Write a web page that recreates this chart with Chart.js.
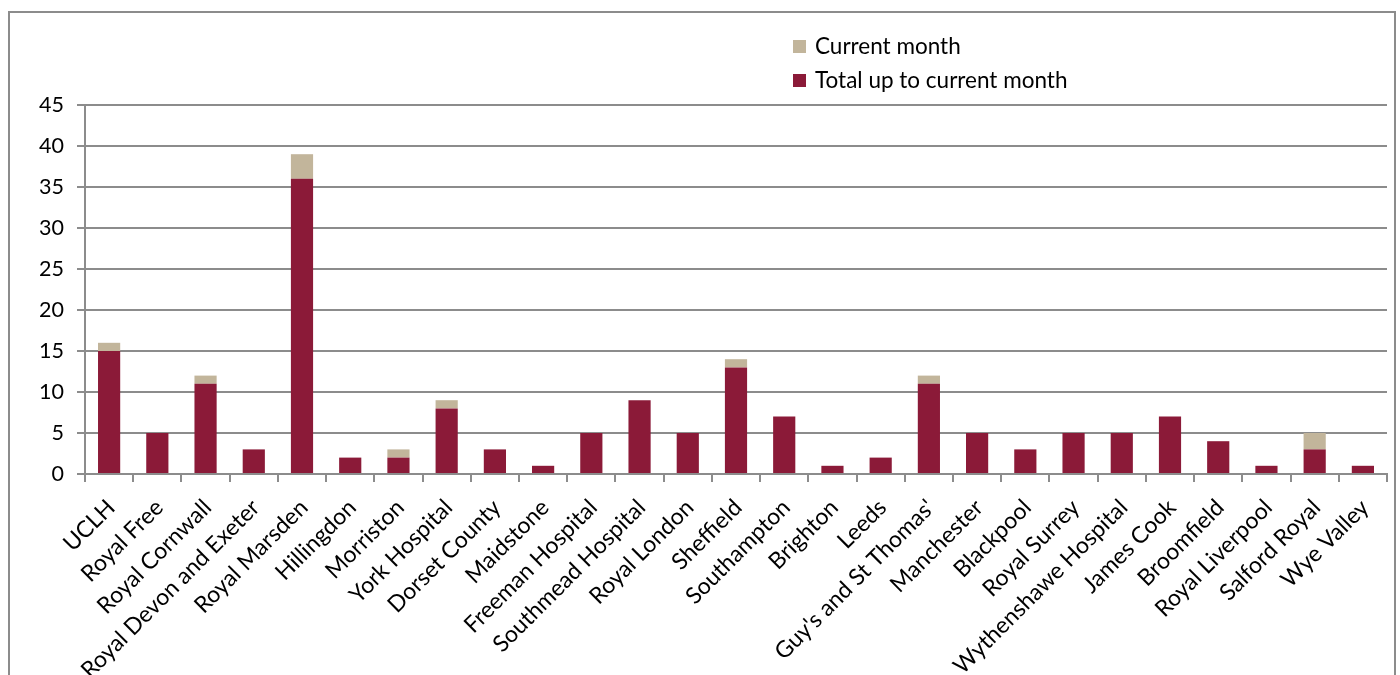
<!DOCTYPE html>
<html>
<head>
<meta charset="utf-8">
<script src="https://cdn.jsdelivr.net/npm/chart.js@4.4.1/dist/chart.umd.min.js"></script>
<style>
  html, body { margin: 0; padding: 0; background: #fff; overflow: hidden; }
  #wrap { position: relative; width: 1400px; height: 675px; }
  #frame { position: absolute; left: 8px; top: 11px; width: 1388px; height: 700px; border: 2px solid #8c8c8c; box-sizing: border-box; }
  #legend { position: absolute; left: 793px; top: 32px; font-family: Lato, "Open Sans", sans-serif; font-size: 22.5px; color: #000; }
  #legend div { height: 34px; line-height: 28px; }
  #legend span.box { display: inline-block; width: 13px; height: 13px; margin-right: 9px; vertical-align: 1px; }
</style>
</head>
<body>
<div id="wrap">
  <div id="frame"></div>
  <canvas id="mycanvas" width="1400" height="675"></canvas>
  <div id="legend"></div>
</div>
<script>
var hospitals = ["UCLH", "Royal Free", "Royal Cornwall", "Royal Devon and Exeter", "Royal Marsden",
  "Hillingdon", "Morriston", "York Hospital", "Dorset County", "Maidstone", "Freeman Hospital",
  "Southmead Hospital", "Royal London", "Sheffield", "Southampton", "Brighton", "Leeds",
  "Guy's and St Thomas'", "Manchester", "Blackpool", "Royal Surrey", "Wythenshawe Hospital",
  "James Cook", "Broomfield", "Royal Liverpool", "Salford Royal", "Wye Valley"];

var total_to_month = [15, 5, 11, 3, 36, 2, 2, 8, 3, 1, 5, 9, 5, 13, 7, 1, 2, 11, 5, 3, 5, 5, 7, 4, 1, 3, 1];
var current_month = [1, 0, 1, 0, 3, 0, 1, 1, 0, 0, 0, 0, 0, 1, 0, 0, 0, 1, 0, 0, 0, 0, 0, 0, 0, 2, 0];

var yTicks = [0, 5, 10, 15, 20, 25, 30, 35, 40, 45];

var maroon = "#8b1a38";
var tan = "#c2b59b";
var gridGrey = "#8c8c8c";
var font = "Lato, 'Open Sans', sans-serif";

var chartdata = {
  labels: hospitals,
  datasets: [
    {
      label: "Total up to current month",
      backgroundColor: maroon,
      data: total_to_month,
      barPercentage: 0.46,
      categoryPercentage: 1.0
    },
    {
      label: "Current month",
      backgroundColor: tan,
      data: current_month,
      barPercentage: 0.46,
      categoryPercentage: 1.0
    }
  ]
};

var ctx = document.getElementById("mycanvas");

var barChart = new Chart(ctx, {
  type: "bar",
  data: chartdata,
  options: {
    responsive: false,
    animation: false,
    layout: { padding: { left: 8, top: 105, right: 13, bottom: 0 } },
    plugins: {
      legend: { display: false },
      tooltip: { enabled: false }
    },
    scales: {
      x: {
        stacked: true,
        offset: true,
        afterFit: function(scale) { scale.height = 201; },
        grid: {
          offset: true,
          drawOnChartArea: false,
          drawTicks: true,
          tickLength: 8,
          color: gridGrey,
          lineWidth: 2
        },
        border: { color: gridGrey, width: 2 },
        ticks: {
          color: "#000",
          font: { family: font, size: 23 },
          minRotation: 45,
          maxRotation: 45,
          autoSkip: false,
          padding: 12,
          labelOffset: 2
        }
      },
      y: {
        stacked: true,
        min: 0,
        max: 45,
        afterFit: function(scale) { scale.width = 77; },
        afterBuildTicks: function(scale) {
          scale.ticks = yTicks.map(function(v) { return { value: v }; });
        },
        grid: {
          color: gridGrey,
          lineWidth: 2,
          tickLength: 8
        },
        border: { color: gridGrey, width: 2 },
        ticks: {
          color: "#000",
          font: { family: font, size: 21.5 },
          padding: 13
        }
      }
    }
  }
});

// legend in the top right, current month listed first
var legendBox = document.getElementById("legend");
chartdata.datasets.slice().reverse().forEach(function(ds) {
  var row = document.createElement("div");
  row.innerHTML = '<span class="box" style="background:' + ds.backgroundColor + '"></span>' + ds.label;
  legendBox.appendChild(row);
});
</script>
</body>
</html>
